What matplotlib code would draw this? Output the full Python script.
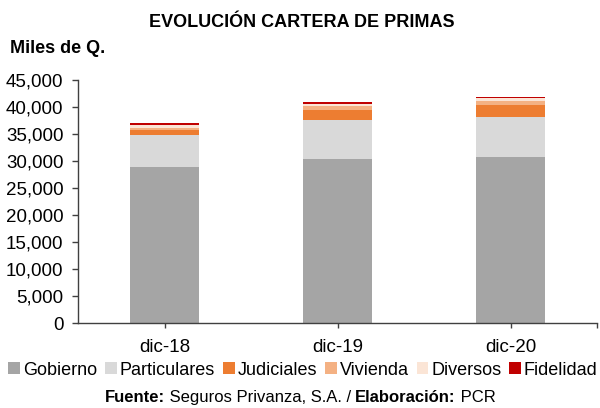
import matplotlib
matplotlib.use("Agg")
import matplotlib.pyplot as plt
from matplotlib.ticker import FuncFormatter
from matplotlib.offsetbox import TextArea, HPacker, AnchoredOffsetbox
import numpy as np

plt.rcParams['font.family'] = ['Liberation Sans', 'DejaVu Sans']

categories = ['dic-18', 'dic-19', 'dic-20']
series_names = ['Gobierno', 'Particulares', 'Judiciales', 'Vivienda', 'Diversos', 'Fidelidad']
gobierno = [28960, 30430, 30740]
particulares = [5840, 7190, 7500]
judiciales = [850, 1910, 2150]
vivienda = [550, 570, 740]
diversos = [500, 540, 490]
fidelidad = [370, 300, 250]
colors = ['#A5A5A5', '#D9D9D9', '#ED7D31', '#F4B183', '#FBE5D6', '#C00000']
yticks = [0, 5000, 10000, 15000, 20000, 25000, 30000, 35000, 40000, 45000]

fig = plt.figure(figsize=(6.0, 4.08), dpi=100)
ax = fig.add_axes([0.13, 0.2083, 0.865, 0.5956])

x = np.arange(len(categories))
bottom = np.zeros(len(categories))
for name, vals, c in zip(series_names, [gobierno, particulares, judiciales, vivienda, diversos, fidelidad], colors):
    ax.bar(x, vals, width=0.40, bottom=bottom, color=c, label=name, edgecolor='none')
    bottom += np.array(vals)

ax.set_xlim(-0.5, 2.5)
ax.set_ylim(0, 45000)
ax.set_yticks(yticks)
ax.yaxis.set_major_formatter(FuncFormatter(lambda v, p: f"{int(v):,}"))
ax.set_xticks([0, 1, 2, 2.5])
ax.set_xticklabels(categories + [''])
for s in ['top', 'right']:
    ax.spines[s].set_visible(False)
for s in ['left', 'bottom']:
    ax.spines[s].set_color('#404040')
    ax.spines[s].set_linewidth(1.0)
ax.tick_params(axis='y', direction='out', length=4.5, width=1, color='#404040', labelsize=13.5, pad=6, labelcolor='black')
ax.tick_params(axis='x', direction='out', length=3.5, width=1, color='#404040', labelsize=13.5, pad=8, labelcolor='black')

fig.text(0.503, 0.944, 'EVOLUCIÓN CARTERA DE PRIMAS', ha='center', va='center', fontsize=13, fontweight='bold')
fig.text(0.017, 0.882, 'Miles de Q.', ha='left', va='center', fontsize=13, fontweight='bold')

leg = fig.legend(loc='center', bbox_to_anchor=(0.505, 0.093), ncol=6, frameon=False, fontsize=13,
                 handlelength=0.65, handleheight=0.65, handletextpad=0.15, columnspacing=0.45, borderaxespad=0)

parts = [('Fuente:', 'bold'), (' Seguros Privanza, S.A. / ', 'normal'), ('Elaboración:', 'bold'), (' PCR', 'normal')]
areas = [TextArea(t, textprops=dict(fontsize=12, fontweight=w)) for t, w in parts]
box = HPacker(children=areas, align='baseline', pad=0, sep=0)
ab = AnchoredOffsetbox(loc='center', child=box, frameon=False, bbox_to_anchor=(0.5, 0.025),
                       bbox_transform=fig.transFigure, pad=0, borderpad=0)
fig.add_artist(ab)

fig.savefig('out.png', dpi=100)
